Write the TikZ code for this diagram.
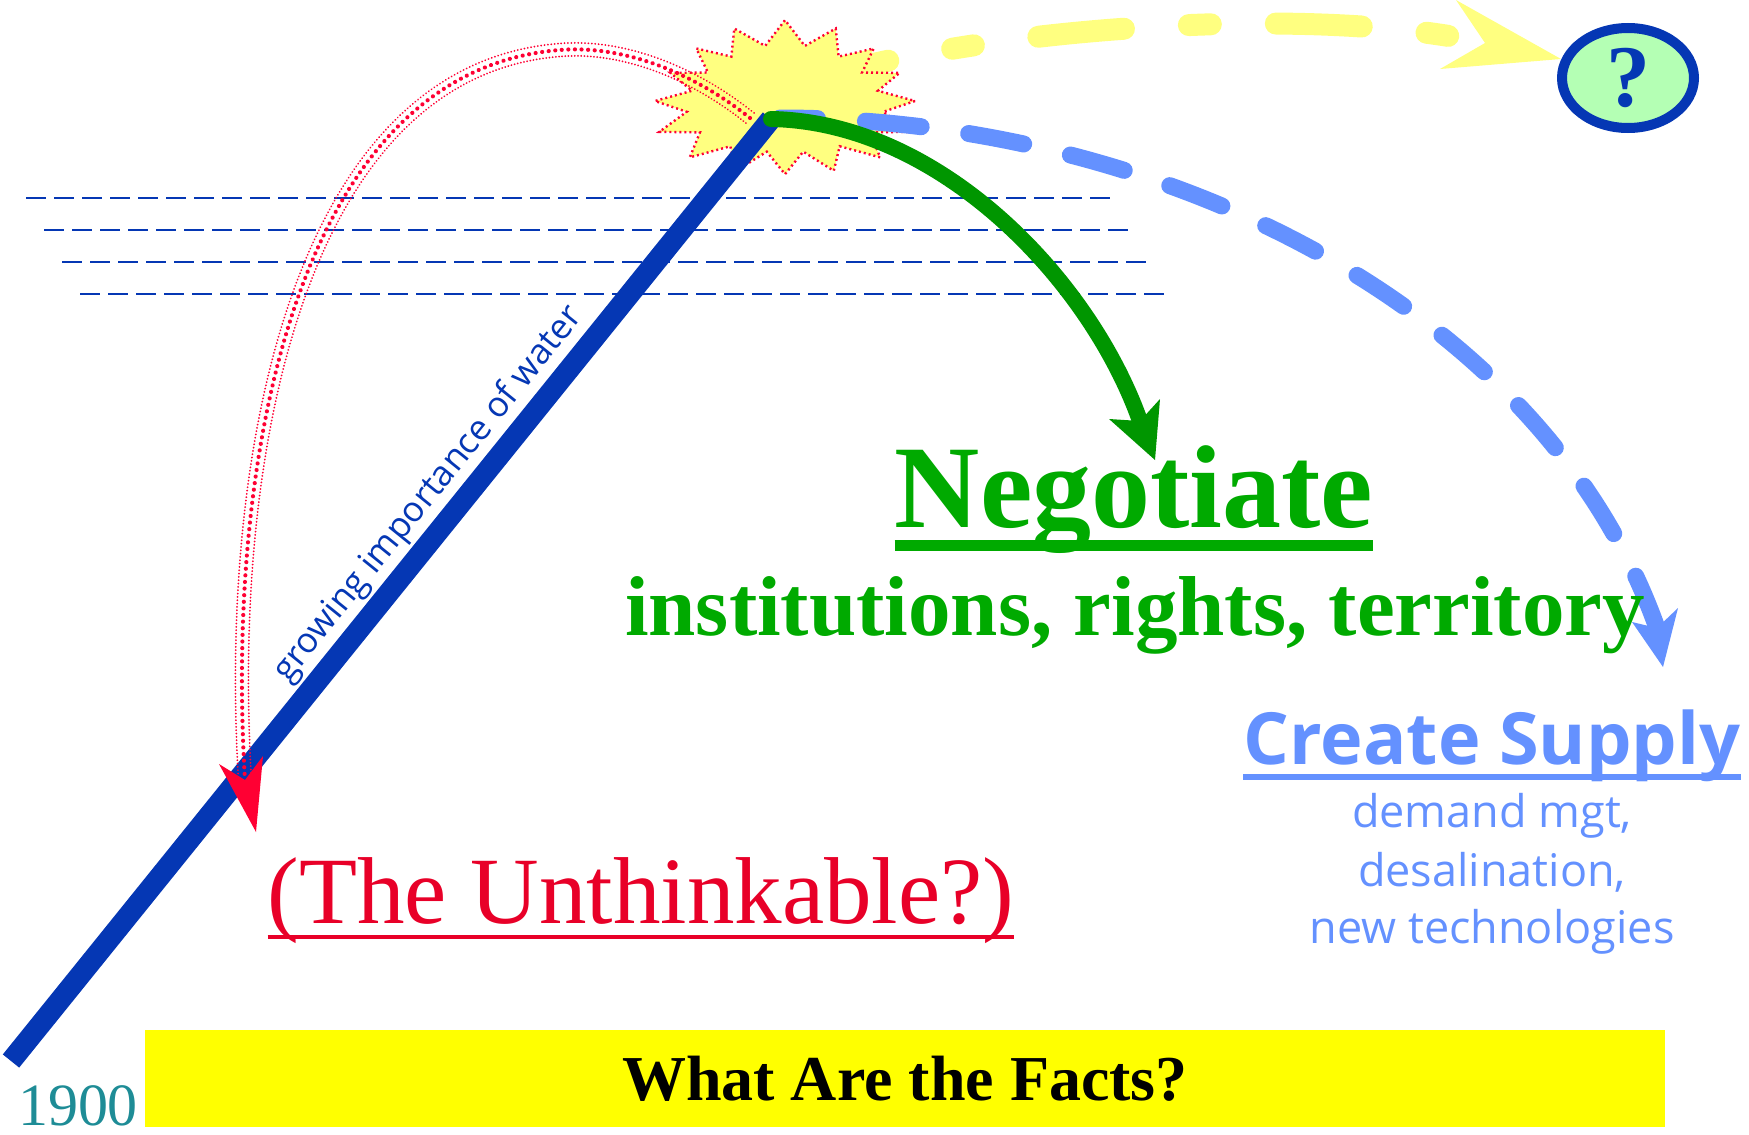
\documentclass[tikz,border=0pt]{standalone}
\usepackage{fontspec}
\setmainfont{Liberation Serif}
\newfontfamily\osans{Open Sans}
\usetikzlibrary{calc,decorations.markings,shapes.geometric}
\definecolor{dblue}{RGB}{5,55,180}
\definecolor{lblue}{RGB}{100,145,255}
\definecolor{pyellow}{RGB}{255,255,128}
\definecolor{bred}{RGB}{255,0,51}
\definecolor{tred}{RGB}{232,0,40}
\definecolor{dgreen}{RGB}{0,150,0}
\definecolor{tgreen}{RGB}{0,170,0}
\definecolor{tealnum}{RGB}{30,140,150}
\definecolor{qgreen}{RGB}{180,255,180}
\definecolor{factsyellow}{RGB}{255,255,0}
\begin{document}
\begin{tikzpicture}[x=1pt,y=-1pt,
  yarc/.style={pyellow,line width=22pt,line cap=round,dash pattern=on 86pt off 65pt on 22pt off 65pt},
  barc/.style={lblue,line width=17pt,line cap=round,dash pattern=on 56pt off 48pt},
  garc/.style={dgreen,line width=16pt,line cap=round},
  hdash/.style={dblue,line width=2.2pt,dash pattern=on 20pt off 8pt},
  thickline/.style={dblue,line width=21pt},
  burst/.style={fill=pyellow,draw=bred,line width=2.4pt,dash pattern=on 2pt off 3pt},
  redarc/.style={
    postaction={decorate,decoration={markings,
      mark=between positions 0 and 1 step 3.3pt with {\fill[bred] (0,6.5pt) circle (1pt); \fill[bred] (0,-6.5pt) circle (1pt);}}},
    postaction={decorate,decoration={markings,
      mark=between positions 0 and 1 step 6.6pt with {\fill[bred] (0,0) circle (2.1pt);}}}},
  qnode/.style={ellipse,draw=dblue,line width=10pt,fill=qgreen,minimum width=132pt,minimum height=100pt,inner sep=0pt,text=dblue,font=\fontsize{88}{90}\selectfont\bfseries},
  lbl/.style={inner sep=0pt,anchor=base},
]
\useasboundingbox (0,0) rectangle (1749,1135);

% named points
\coordinate (apex) at (771,119);
\coordinate (lowend) at (11,1061);
\coordinate (ys) at (805,82);
\coordinate (yn) at (1485,43);
\coordinate (bs) at (780,118);
\coordinate (bn) at (1657,628);
\coordinate (gn) at (1140,421);
\coordinate (rs) at (750,118);
\coordinate (rtop) at (560,50);
\coordinate (rn) at (245,780);

% yellow dashed arrow to the question
\draw[yarc] (ys) .. controls (990,25) and (1320,5) .. (yn);
\fill[pyellow] (yn) -- (1456,0) -- (1561,59) -- (1440,69) -- cycle;

% starburst
\draw[burst] plot[samples at={0,11.25,...,349}, variable=\t]
  ({785+130*(1-0.25*mod(round(\t/11.25),2))*(1+0.05*sin(3*\t))*cos(\t)},
   {101+77*(1-0.3*mod(round(\t/11.25),2))*(1+0.05*sin(3*\t))*sin(\t)}) -- cycle;

% dashed horizontal lines
\foreach \i in {0,1,2,3}
  \draw[hdash] ({26+18*\i},{198+32*\i}) -- ++(1091,0);

% thick blue line
\draw[thickline] (lowend) -- (apex);

% red dotted arc with arrowhead
\path[redarc] (rs) .. controls (690,70) and (620,45) .. (rtop) .. controls (300,70) and (225,450) .. (rn);
\fill[bred] (rn) -- (219,764) -- (256,832) -- (263,756) -- cycle;

% light blue dashed arc (pattern starts at the arrowhead end)
\draw[barc] (bn) .. controls (1540,300) and (1150,118) .. (bs);
\fill[lblue] (bn) -- (1632,622) -- (1663,667) -- (1678,608) -- cycle;

% green arrow
\draw[garc] (apex) .. controls (940,122) and (1090,280) .. (gn);
\fill[dgreen] (gn) -- (1109,419) -- (1155,460) -- (1160,399) -- cycle;

% question ellipse
\node[qnode] (q) at (1628,78) {?};

% rotated label
\node[lbl,rotate=51.1,text=dblue,font=\osans\fontsize{35}{38}\selectfont] (grow) at (436,500) {growing importance of water};

% Negotiate
\node[lbl,text=tgreen,font=\fontsize{118}{120}\selectfont\bfseries] (neg) at (1134,527) {Negotiate};
\draw[tgreen,line width=11pt] ($(neg.base west)+(0,18)$) -- ($(neg.base east)+(0,18)$);
\node[lbl,text=tgreen,font=\fontsize{85}{90}\selectfont\bfseries] (inst) at (1135,635) {institutions, rights, territory};

% Unthinkable
\node[lbl,text=tred,font=\fontsize{95}{100}\selectfont] (unth) at (641,923) {(The Unthinkable?)};
\draw[tred,line width=3.5pt] ($(unth.base west)+(0,14)$) -- ($(unth.base east)+(0,14)$);

% Create supply
\node[lbl,text=lblue,font=\osans\bfseries\fontsize{72}{76}\selectfont] (cs) at (1492,764) {Create Supply};
\draw[lblue,line width=6pt] ($(cs.base west)+(0,13)$) -- ($(cs.base east)+(0,13)$);
\node[lbl,text=lblue,font=\osans\fontsize{45}{50}\selectfont] (cs1) at (1492,827) {demand mgt,};
\node[lbl,text=lblue,font=\osans\fontsize{45}{50}\selectfont] (cs2) at (1492,886) {desalination,};
\node[lbl,text=lblue,font=\osans\fontsize{45}{50}\selectfont] (cs3) at (1492,943) {new technologies};

% facts box and year
\node[fill=factsyellow,minimum width=1520pt,minimum height=97pt,inner sep=0pt,font=\fontsize{64}{66}\selectfont\bfseries] (facts) at (905,1078.5) {What Are the Facts?};
\node[lbl,text=tealnum,font=\fontsize{60}{62}\selectfont] (year) at (78,1125) {1900};
\end{tikzpicture}
\end{document}
